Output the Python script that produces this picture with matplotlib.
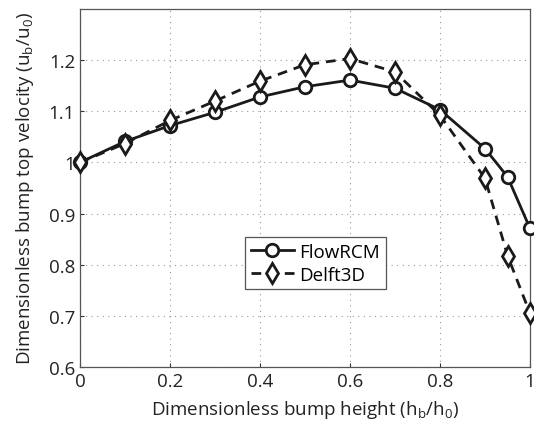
import matplotlib.pyplot as plt

plt.rcParams["font.family"] = ["Open Sans", "DejaVu Sans"]

bump_height = [0, 0.1, 0.2, 0.3, 0.4, 0.5, 0.6, 0.7, 0.8, 0.9, 0.95, 1.0]
flowrcm = [1.0, 1.041, 1.072, 1.098, 1.128, 1.148, 1.161, 1.145, 1.103, 1.027, 0.972, 0.871]
delft3d = [1.0, 1.037, 1.082, 1.120, 1.159, 1.191, 1.203, 1.177, 1.092, 0.969, 0.818, 0.705]

xticks = [0, 0.2, 0.4, 0.6, 0.8, 1]
xticklabels = ["0", "0.2", "0.4", "0.6", "0.8", "1"]
yticks = [0.6, 0.7, 0.8, 0.9, 1.0, 1.1, 1.2]
yticklabels = ["0.6", "0.7", "0.8", "0.9", "1", "1.1", "1.2"]


def main():
    fig = plt.figure(figsize=(5.34, 4.27), dpi=100)
    ax = fig.add_axes([80 / 534, 59 / 427, 450 / 534, 358 / 427])
    ax.plot(bump_height, flowrcm, "-o", color="#1a1a1a", linewidth=2,
            markersize=9, markerfacecolor="white", markeredgewidth=2,
            label="FlowRCM", clip_on=False, zorder=3)
    ax.plot(bump_height, delft3d, "--d", color="#1a1a1a", linewidth=2,
            markersize=10, markerfacecolor="white", markeredgewidth=2,
            dashes=(3.5, 2.5), label="Delft3D", clip_on=False, zorder=3)
    ax.set_xlim(0, 1)
    ax.set_ylim(0.6, 1.3)
    ax.set_xticks(xticks)
    ax.set_xticklabels(xticklabels)
    ax.set_yticks(yticks)
    ax.set_yticklabels(yticklabels)
    ax.grid(True, linestyle=(0, (1, 4)), color="#999999", linewidth=0.8)
    ax.tick_params(direction="in", length=3, labelsize=13.5, colors="#333333",
                   labelcolor="#222222")
    for sp in ax.spines.values():
        sp.set_color("#555555")
        sp.set_linewidth(0.9)
    ax.set_xlabel("Dimensionless bump height (h$_\\mathregular{b}$/h$_\\mathregular{0}$)",
                  fontsize=13.5, color="#222222", labelpad=6)
    ax.set_ylabel("Dimensionless bump top velocity (u$_\\mathregular{b}$/u$_\\mathregular{0}$)",
                  fontsize=13.5, color="#222222", labelpad=9)
    leg = ax.legend(loc="center", bbox_to_anchor=(0.523, 0.29), fontsize=13.5,
                    fancybox=False, framealpha=1, edgecolor="#555555",
                    handlelength=2.3, borderpad=0.3, labelspacing=0.25,
                    handletextpad=0.3)
    leg.get_frame().set_linewidth(0.9)
    fig.savefig("out.png", dpi=100)


if __name__ == "__main__":
    main()
